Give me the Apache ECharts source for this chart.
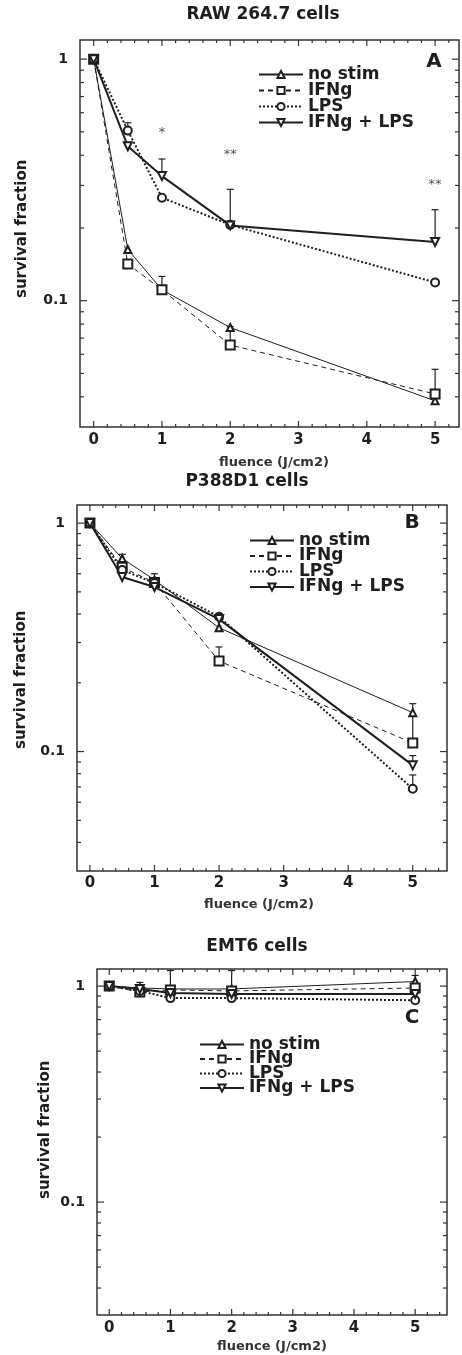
<!DOCTYPE html>
<html><head><meta charset="utf-8">
<script src="https://cdn.jsdelivr.net/npm/echarts@6/dist/echarts.min.js"></script>
<style>html,body{margin:0;padding:0;background:#fff}#c{width:462px;height:1355px}</style>
</head><body><div id="c"></div>
<script>
// ---------- data ----------
const seriesNames = ['no stim', 'IFNg', 'LPS', 'IFNg + LPS'];
const fluence = [0, 0.5, 1, 2, 5];

const rawNoStim = [1, 0.163, 0.111, 0.0774, 0.0385];
const rawIFNg   = [1, 0.142, 0.111, 0.0655, 0.0411];
const rawLPS    = [1, 0.506, 0.267, 0.206, 0.119];
const rawBoth   = [1, 0.436, 0.328, 0.205, 0.175];
const rawErr = [[0.5, 0.506, 0.545], [1, 0.328, 0.386], [2, 0.205, 0.289], [5, 0.175, 0.238],
                [1, 0.111, 0.126], [2, 0.0655, 0.078], [5, 0.0411, 0.052]];
const rawStars = [[1, 0.496, '*'], [2, 0.403, '**'], [5, 0.303, '**']];

const pNoStim = [1, 0.70, 0.564, 0.348, 0.148];
const pIFNg   = [1, 0.64, 0.55, 0.249, 0.109];
const pLPS    = [1, 0.623, 0.547, 0.389, 0.0687];
const pBoth   = [1, 0.581, 0.525, 0.38, 0.087];
const pErr = [[0.5, 0.70, 0.73], [1, 0.564, 0.60], [2, 0.249, 0.287], [5, 0.109, 0.162],
              [5, 0.087, 0.096], [5, 0.0687, 0.079]];

const eNoStim = [1, 0.98, 0.97, 0.97, 1.05];
const eIFNg   = [1, 0.94, 0.96, 0.95, 0.98];
const eLPS    = [1, 0.95, 0.88, 0.88, 0.86];
const eBoth   = [1, 0.97, 0.93, 0.92, 0.92];
const eErr = [[0.5, 0.98, 1.04], [1, 0.97, 1.18], [2, 0.97, 1.18], [5, 1.0, 1.12]];

const panelTitles = ['RAW 264.7 cells', 'P388D1 cells', 'EMT6 cells'];
const panelLetters = ['A', 'B', 'C'];
const xAxisTitle = 'fluence (J/cm2)';
const yAxisTitle = 'survival fraction';
const xMajorTicks = [0, 1, 2, 3, 4, 5];
const xMinorTicks = [0.2, 0.4, 0.6, 0.8, 1.2, 1.4, 1.6, 1.8, 2.2, 2.4, 2.6, 2.8, 3.2, 3.4, 3.6, 3.8, 4.2, 4.4, 4.6, 4.8, 5.2, 5.4];
const yMajorTicks = [0.1, 1];
const yMinorTicks = [0.04, 0.05, 0.06, 0.07, 0.08, 0.09, 0.2, 0.3, 0.4, 0.5, 0.6, 0.7, 0.8, 0.9];

// ---------- layout / style ----------
const FONT = 'DejaVu Sans';
const INK = '#1e1e1e';
const panels = [
  { grid: {left: 80, top: 40, width: 380, height: 387}, xMax: 5.35, lines: [rawNoStim, rawIFNg, rawLPS, rawBoth], err: rawErr, stars: rawStars,
    title: [263, 15], letter: [434, 62], legend: {left: 258, top: 66, gap: -1}, yName: [22, 298], xName: [274, 463], labelMargin: 6 },
  { grid: {left: 77, top: 505, width: 370, height: 366}, xMax: 5.53, lines: [pNoStim, pIFNg, pLPS, pBoth], err: pErr, stars: [],
    title: [247, 482], letter: [412, 523], legend: {left: 249, top: 532, gap: -1.5}, yName: [21, 749], xName: [259, 905], labelMargin: 5 },
  { grid: {left: 97, top: 969, width: 350, height: 346}, xMax: 5.52, lines: [eNoStim, eIFNg, eLPS, eBoth], err: eErr, stars: [],
    title: [257, 947], letter: [412, 1018], legend: {left: 199, top: 1036, gap: -2.5}, yName: [45, 1199], xName: [272, 1347], labelMargin: 6 }
];
const lineStyles = [
  {symbol: 'emptyTriangle', symbolSize: 7, rotate: 0, lineStyle: {width: 1, type: 'solid'}},
  {symbol: 'emptyRect', symbolSize: 9, rotate: 0, lineStyle: {width: 1, type: [5, 4]}},
  {symbol: 'emptyCircle', symbolSize: 8, rotate: 0, lineStyle: {width: 2, type: [2, 2]}},
  {symbol: 'emptyTriangle', symbolSize: 8, rotate: 180, lineStyle: {width: 2, type: 'solid'}}
];

function tickRender(params, api) {
  const cs = params.coordSys;
  const v = api.value(0), kind = api.value(1);
  const st = {stroke: '#333', lineWidth: 1.2};
  if (kind <= 2) {
    const px = api.coord([v, 1])[0];
    if (px < cs.x || px > cs.x + cs.width) return null;
    const len = kind === 1 ? 6 : 3;
    const b = cs.y + cs.height, t = cs.y;
    return {type: 'group', children: [
      {type: 'line', shape: {x1: px, y1: b, x2: px, y2: b - len}, style: st},
      {type: 'line', shape: {x1: px, y1: t, x2: px, y2: t + len}, style: st}]};
  }
  const py = api.coord([0, v])[1];
  const len = kind === 3 ? 7 : 4;
  const l = cs.x, r = cs.x + cs.width;
  return {type: 'group', children: [
    {type: 'line', shape: {x1: l, y1: py, x2: l + len, y2: py}, style: st},
    {type: 'line', shape: {x1: r, y1: py, x2: r - len, y2: py}, style: st}]};
}
function errRender(params, api) {
  const x = api.value(0);
  const p1 = api.coord([x, api.value(1)]), p2 = api.coord([x, api.value(2)]);
  const st = {stroke: INK, lineWidth: 1.2};
  return {type: 'group', children: [
    {type: 'line', shape: {x1: p1[0], y1: p1[1], x2: p2[0], y2: p2[1]}, style: st},
    {type: 'line', shape: {x1: p2[0] - 3.5, y1: p2[1], x2: p2[0] + 3.5, y2: p2[1]}, style: st}]};
}

const tickData = [].concat(
  xMajorTicks.map(v => [v, 1]), xMinorTicks.map(v => [v, 2]),
  yMajorTicks.map(v => [v, 3]), yMinorTicks.map(v => [v, 4]));

const grids = [], xAxes = [], yAxes = [], series = [], legends = [], graphics = [];
panels.forEach((p, i) => {
  grids.push(Object.assign({show: true, borderColor: '#333', borderWidth: 1.5, backgroundColor: 'transparent'}, p.grid));
  xAxes.push({type: 'value', gridIndex: i, min: -0.2, max: p.xMax, interval: 0.2,
    axisLine: {show: false}, axisTick: {show: false}, splitLine: {show: false},
    axisLabel: {interval: 0, margin: p.labelMargin, fontFamily: FONT, fontWeight: 'bold', fontSize: 15, color: INK,
      formatter: v => (v >= -1e-6 && Math.abs(v - Math.round(v)) < 1e-6) ? String(Math.round(v)) : ''}});
  yAxes.push({type: 'log', logBase: 10, gridIndex: i, min: 0.03, max: 1.2,
    axisLine: {show: false}, axisTick: {show: false}, splitLine: {show: false},
    axisLabel: {margin: 12, fontFamily: FONT, fontWeight: 'bold', fontSize: 14, color: INK,
      formatter: v => { const l = Math.log10(v); return Math.abs(l - Math.round(l)) < 1e-6 ? (v < 0.5 ? '0.1' : '1') : ''; }}});
  p.lines.forEach((vals, k) => {
    const s = lineStyles[k];
    series.push({type: 'line', name: seriesNames[k], xAxisIndex: i, yAxisIndex: i,
      data: fluence.map((x, j) => [x, vals[j]]),
      symbol: s.symbol, symbolSize: s.symbolSize, symbolRotate: s.rotate, showAllSymbol: true,
      color: INK,
      itemStyle: {color: INK, borderColor: INK, borderWidth: 1.2},
      lineStyle: Object.assign({color: INK}, s.lineStyle), z: 3, animation: false});
  });
  series.push({type: 'custom', xAxisIndex: i, yAxisIndex: i, data: p.err, renderItem: errRender,
    encode: {x: 0, y: [1, 2]}, z: 2, animation: false, silent: true});
  series.push({type: 'custom', xAxisIndex: i, yAxisIndex: i, data: tickData, renderItem: tickRender,
    encode: {x: 0, y: 1}, z: 5, clip: false, animation: false, silent: true});
  if (p.stars.length) {
    series.push({type: 'scatter', xAxisIndex: i, yAxisIndex: i, data: p.stars, symbolSize: 1,
      itemStyle: {color: 'transparent'}, silent: true, animation: false,
      label: {show: true, position: 'inside', formatter: q => q.value[2], fontFamily: FONT, fontSize: 13, color: INK}});
  }
  legends.push({orient: 'vertical', left: p.legend.left, top: p.legend.top, padding: 0, itemGap: p.legend.gap,
    itemWidth: 44, itemHeight: 9, data: seriesNames, selectedMode: false,
    textStyle: {fontFamily: FONT, fontWeight: 'bold', fontSize: 17, lineHeight: 15, color: INK}});
  graphics.push({type: 'text', x: p.title[0], y: p.title[1], style: {text: panelTitles[i], fontFamily: FONT, fontWeight: 'bold', fontSize: 17, fill: INK, textAlign: 'center', textVerticalAlign: 'middle'}});
  graphics.push({type: 'text', x: p.letter[0], y: p.letter[1], style: {text: panelLetters[i], fontFamily: FONT, fontWeight: 'bold', fontSize: 20, fill: INK, textAlign: 'center', textVerticalAlign: 'middle'}});
  graphics.push({type: 'text', x: p.yName[0], y: p.yName[1], rotation: Math.PI / 2, style: {text: yAxisTitle, fontFamily: FONT, fontWeight: 'bold', fontSize: 15, fill: INK, textAlign: 'left', textVerticalAlign: 'middle'}});
  graphics.push({type: 'text', x: p.xName[0], y: p.xName[1], style: {text: xAxisTitle, fontFamily: FONT, fontWeight: 'bold', fontSize: 13, fill: '#333', textAlign: 'center', textVerticalAlign: 'middle'}});
});

const chart = echarts.init(document.getElementById('c'), null, {renderer: 'canvas'});
chart.setOption({
  backgroundColor: '#fff', animation: false,
  grid: grids, xAxis: xAxes, yAxis: yAxes, series: series, legend: legends, graphic: graphics
});
</script>
</body></html>
